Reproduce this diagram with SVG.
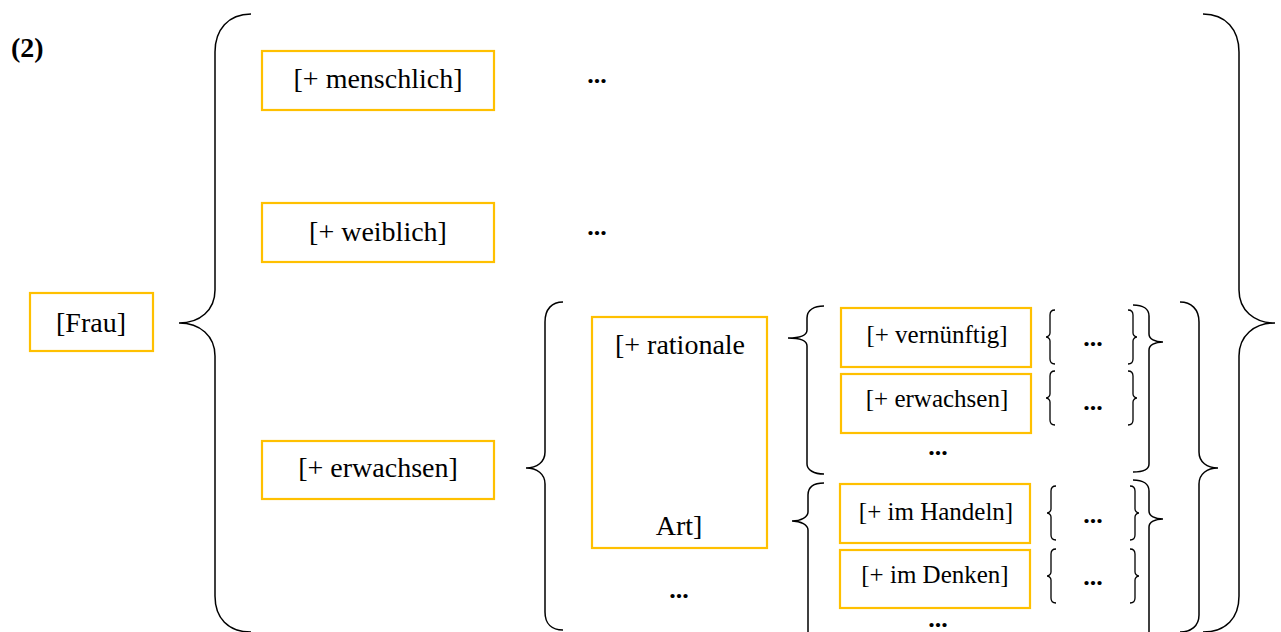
<svg xmlns="http://www.w3.org/2000/svg" width="1281" height="632" viewBox="0 0 1281 632">
<style>
.box{fill:#fff;stroke:#FFC000;stroke-width:2.2}
.br{fill:none;stroke:#000;stroke-width:1.5}
.sb{fill:none;stroke:#000;stroke-width:1.3}
.t{font-family:"Liberation Serif","Times New Roman",serif;font-size:28px;fill:#000;text-anchor:middle}
.s{font-family:"Liberation Serif","Times New Roman",serif;font-size:25px;fill:#000;text-anchor:middle}
.d{font-family:"Liberation Serif","Times New Roman",serif;font-size:26px;font-weight:bold;fill:#000;text-anchor:middle}
.n{font-family:"Liberation Serif","Times New Roman",serif;font-size:28px;font-weight:bold;fill:#000}
</style>
<defs>
<path id="lb" d="M9,-27 C6,-27 4,-25 4,-22 L4,-4 C4,-2 2,0 0,0 C2,0 4,2 4,4 L4,22 C4,25 6,27 9,27"/>
<path id="rb" d="M-9,-27 C-6,-27 -4,-25 -4,-22 L-4,-4 C-4,-2 -2,0 0,0 C-2,0 -4,2 -4,4 L-4,22 C-4,25 -6,27 -9,27"/>
</defs>
<rect width="1281" height="632" fill="#fff"/>
<text class="n" x="11" y="57">(2)</text>

<g id="connectors">
<path class="br" d="M251,14 C228,14 215,30 215,52 L215,290 C215,310 200,323 179,323 C200,323 215,336 215,356 L215,596 C215,618 228,632 251,632"/>
<path class="br" d="M1203,14 C1226,14 1239,30 1239,52 L1239,290 C1239,310 1254,323 1275,323 C1254,323 1239,336 1239,356 L1239,596 C1239,618 1226,632 1203,632"/>
<path class="br" d="M563,302 C552,302 545,309 545,322 L545,452 C545,462 537,468 526,468 C537,468 545,474 545,484 L545,612 C545,624 552,630 563,630"/>
<path class="br" d="M1180,302 C1191,302 1199,309 1199,322 L1199,452 C1199,462 1207,468 1218,468 C1207,468 1199,474 1199,484 L1199,615 C1199,626 1191,632 1180,632"/>
<path class="br" d="M824,306 C814,306 807,310 807,318 L807,330 C807,335 800,338 788,338 C800,338 807,341 807,346 L807,464 C807,470 814,474 824,474"/>
<path class="br" d="M824,483 C814,483 808,487 808,495 L808,512 C808,517 801,521 792,521 C801,521 808,525 808,530 L808,632"/>
<path class="br" d="M1133,305 C1143,305 1149,309 1149,316 L1149,334 C1149,339 1155,342 1163,342 C1155,342 1149,345 1149,350 L1149,464 C1149,469 1143,472 1133,472"/>
<path class="br" d="M1133,480 C1143,480 1149,484 1149,491 L1149,511 C1149,516 1155,519 1163,519 C1155,519 1149,522 1149,527 L1149,632"/>
<use href="#lb" class="sb" x="1046" y="337"/>
<use href="#rb" class="sb" x="1137" y="337"/>
<use href="#lb" class="sb" x="1046" y="398"/>
<use href="#rb" class="sb" x="1137" y="398"/>
<use href="#lb" class="sb" x="1047" y="513"/>
<use href="#rb" class="sb" x="1139" y="513"/>
<use href="#lb" class="sb" x="1047" y="576"/>
<use href="#rb" class="sb" x="1139" y="576"/>
</g>

<g id="frau"><rect class="box" x="30" y="293" width="123" height="58"/><text class="t" x="91" y="332">[Frau]</text></g>
<g id="menschlich"><rect class="box" x="262" y="51" width="232" height="59"/><text class="t" x="378" y="88">[+ menschlich]</text></g>
<g id="weiblich"><rect class="box" x="262" y="203" width="232" height="59"/><text class="t" x="378" y="241">[+ weiblich]</text></g>
<g id="erwachsen"><rect class="box" x="262" y="441" width="232" height="58"/><text class="t" x="378" y="477">[+ erwachsen]</text></g>
<g id="rationale"><rect class="box" x="592" y="317" width="175" height="231"/><text class="t" x="680" y="354">[+ rationale</text><text class="t" x="679" y="535">Art]</text></g>
<g id="vernuenftig"><rect class="box" x="841" y="308" width="190" height="59"/><text class="s" x="937" y="343">[+ vernünftig]</text></g>
<g id="erwachsen2"><rect class="box" x="841" y="374" width="190" height="59"/><text class="s" x="937" y="407">[+ erwachsen]</text></g>
<g id="handeln"><rect class="box" x="840" y="484" width="190" height="59"/><text class="s" x="936" y="520">[+ im Handeln]</text></g>
<g id="denken"><rect class="box" x="840" y="550" width="190" height="58"/><text class="s" x="935" y="583">[+ im Denken]</text></g>

<g id="ellipses">
<text class="d" x="597" y="83">...</text>
<text class="d" x="597" y="235">...</text>
<text class="d" x="679" y="598">...</text>
<text class="d" x="938" y="455">...</text>
<text class="d" x="938" y="627">...</text>
<text class="d" x="1093" y="346">...</text>
<text class="d" x="1093" y="410">...</text>
<text class="d" x="1093" y="523">...</text>
<text class="d" x="1093" y="585">...</text>
</g>
</svg>
